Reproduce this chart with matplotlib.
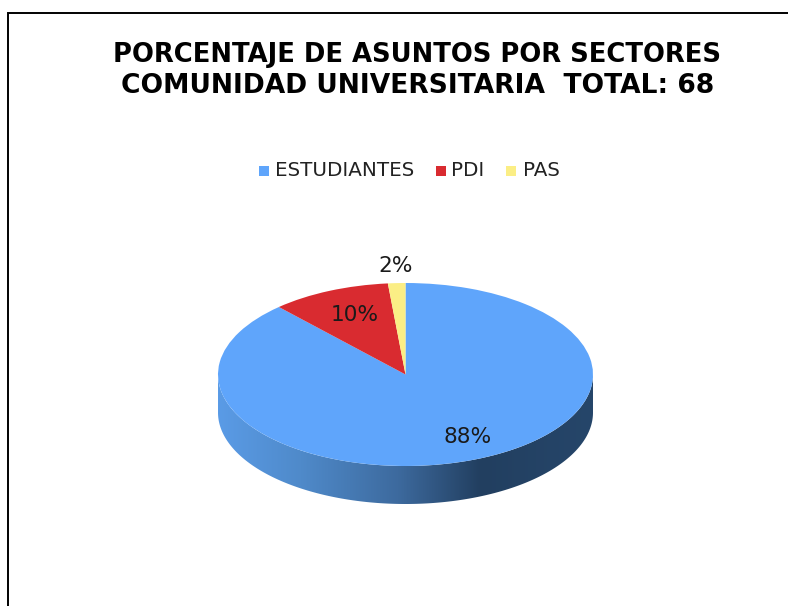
import numpy as np
import matplotlib
matplotlib.use("Agg")
import matplotlib.pyplot as plt
from matplotlib.colors import LinearSegmentedColormap
from matplotlib.patches import Polygon, Rectangle

W, H = 788, 606
categories = ["ESTUDIANTES", "PDI", "PAS"]
values = [88.2, 10.3, 1.5]
labels = ["88%", "10%", "2%"]
colors = ["#5fa5fb", "#d92b30", "#fbee85"]
title_lines = ["PORCENTAJE DE ASUNTOS POR SECTORES", "COMUNIDAD UNIVERSITARIA  TOTAL: 68"]
side_stops = [(0.0, "#5a9be6"), (0.22, "#4f8aca"), (0.48, "#3d6a9e"), (0.70, "#223f60"), (1.0, "#26466a")]

fig = plt.figure(figsize=(W / 100, H / 100), dpi=100, facecolor="white")
plt.rcParams["font.family"] = "DejaVu Sans"

# page frame: top and left rule, runs off the right and bottom
bg = fig.add_axes([0, 0, 1, 1])
bg.set_xlim(0, W)
bg.set_ylim(H, 0)
bg.axis("off")
bg.plot([8.5, 8.5, W], [H, 12.5, 12.5], color="black", lw=1.4, solid_joinstyle="miter")

# pie: top ellipse spans x 218..593, y 283..466; side depth 38 px
rx, ry, depth = 187.5, 91.5, 38.0
cx, cy = 405.5, 374.5
ymin = -1 - depth / ry
ax = fig.add_axes([(cx - rx) / W, 1 - (cy + ry + depth) / H, 2 * rx / W, (2 * ry + depth) / H])

wedges, _ = ax.pie(values, colors=colors, startangle=90, counterclock=False, radius=1,
                   wedgeprops=dict(linewidth=0, zorder=3))
ax.set_aspect("auto")
ax.set_xlim(-1, 1)
ax.set_ylim(ymin, 1)

th = np.linspace(np.pi, 2 * np.pi, 300)
upper = np.c_[np.cos(th), np.sin(th)]
lower = np.c_[np.cos(th[::-1]), np.sin(th[::-1]) - depth / ry]
band = Polygon(np.r_[upper, lower], closed=True, transform=ax.transData, fc="none", ec="none")
ax.add_patch(band)
cmap = LinearSegmentedColormap.from_list("side", side_stops)
im = ax.imshow(np.linspace(0, 1, 512)[None, :], cmap=cmap, extent=(-1, 1, ymin, 1),
               aspect="auto", zorder=1)
im.set_clip_path(band)
ax.set_xlim(-1, 1)
ax.set_ylim(ymin, 1)
ax.axis("off")

# text in pixel coordinates
label_xy = [(468, 437), (355, 315), (396, 266)]
for (x, y), s in zip(label_xy, labels):
    bg.text(x, y, s, ha="center", va="center", fontsize=15.6, color="#1a1a1a", zorder=10)
bg.set_zorder(5)
bg.patch.set_alpha(0)

for y, s, fs in zip([55, 86], title_lines, [18.6, 19.1]):
    bg.text(417.5, y, s, ha="center", va="center", fontsize=fs, fontweight="bold", color="black")

legend_x = [(259, 275), (436, 451), (506, 523)]
for (mx, tx), c, s in zip(legend_x, colors, categories):
    bg.add_patch(Rectangle((mx, 166), 10, 10, fc=c, ec="none"))
    bg.text(tx, 171, s, ha="left", va="center", fontsize=14.3, color="#222222")

fig.savefig("out.png", dpi=100, facecolor="white")
